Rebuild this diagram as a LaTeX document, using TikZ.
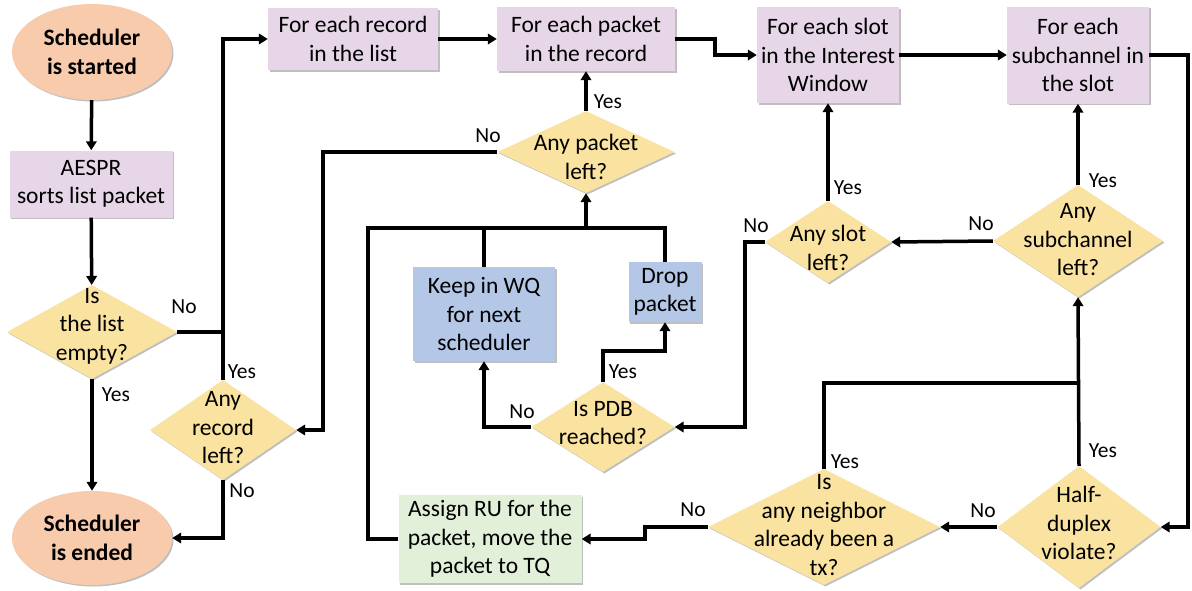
\documentclass[tikz,border=0pt]{standalone}
\usepackage{fontspec}
\setmainfont{Carlito}
\usetikzlibrary{shapes.geometric,arrows.meta,shadows}
\definecolor{corange}{HTML}{F8CBAD}
\definecolor{cpurple}{HTML}{E6D6E8}
\definecolor{cblue}{HTML}{B4C7E7}
\definecolor{cyellow}{HTML}{FAE3A0}
\definecolor{cgreen}{HTML}{E2EFD9}
\tikzset{
  base/.style={draw=none, inner sep=0pt, align=center, font=\fontsize{23.5}{28.5}\selectfont,
    drop shadow={shadow xshift=1.5pt, shadow yshift=-1.5pt, opacity=0.25, fill=black}},
  term/.style={base, shape=ellipse, fill=corange, font=\fontsize{23.5}{28.5}\selectfont\bfseries},
  proc/.style={base, shape=rectangle, fill=cpurple},
  act/.style={base, shape=rectangle, fill=cblue},
  fin/.style={base, shape=rectangle, fill=cgreen},
  dia/.style={base, shape=diamond, fill=cyellow},
  txt/.style={inner sep=0pt, align=center, font=\fontsize{23.5}{28.5}\selectfont},
  lab/.style={inner sep=0pt, font=\fontsize{21.5}{24}\selectfont},
  conn/.style={line width=3.5pt, -{Triangle[length=9pt,width=10.5pt]}},
  line/.style={line width=3.5pt},
}
\begin{document}
\begin{tikzpicture}[x=1pt,y=-1pt]
\useasboundingbox (0,0) rectangle (1192,590);
% terminals
\node[term, minimum width=160, minimum height=96] (start) at (92,52) {Scheduler\\is started};
\node[term, minimum width=160, minimum height=94] (end) at (92,538) {Scheduler\\is ended};
% processes
\node[proc, minimum width=163, minimum height=67] (aespr) at (91,184) {AESPR\\sorts list packet};
\node[proc, minimum width=170, minimum height=62] (forrec) at (353,39) {For each record\\in the list};
\node[proc, minimum width=178, minimum height=64] (forpkt) at (586,39) {For each packet\\in the record};
\node[proc, minimum width=142, minimum height=96] (forslot) at (828,55) {For each slot\\in the Interest\\Window};
\node[proc, minimum width=142, minimum height=97] (forsub) at (1078,55) {For each\\subchannel in\\the slot};
\node[act, minimum width=142, minimum height=94] (keep) at (484,314) {Keep in WQ\\for next\\scheduler};
\node[act, minimum width=73, minimum height=60] (drop) at (665,292) {Drop\\packet};
\node[fin, minimum width=183, minimum height=88] (assign) at (490,539) {Assign RU for the\\packet, move the\\packet to TQ};
% decisions
\node[dia, minimum width=170, minimum height=94] (empty) at (92,332) {};
\node[txt] (emptyt) at (92,326) {Is\\the list\\empty?};
\node[dia, minimum width=146, minimum height=100] (rleft) at (223,430) {};
\node[txt] (rleftt) at (223,428) {Any\\record\\left?};
\node[dia, minimum width=177, minimum height=82] (pktleft) at (586,152) {};
\node[txt] (pktleftt) at (586,157) {Any packet\\left?};
\node[dia, minimum width=126, minimum height=82] (slotleft) at (828,242) {};
\node[txt] (slotleftt) at (828,248) {Any slot\\left?};
\node[dia, minimum width=170, minimum height=112] (subleft) at (1078,241) {};
\node[txt] (sublefft) at (1078,240) {Any\\subchannel\\left?};
\node[dia, minimum width=143, minimum height=90] (pdb) at (603,427) {};
\node[txt] (pdbt) at (603,423) {Is PDB\\reached?};
\node[dia, minimum width=163, minimum height=122] (half) at (1079,527) {};
\node[txt] (halft) at (1079,523) {Half-\\duplex\\violate?};
\node[dia, minimum width=232, minimum height=116] (nb) at (824,527) {};
\node[txt] (nbt) at (824,525) {Is\\any neighbor\\already been a\\tx?};
% helper coordinates
\coordinate (c1) at (715,0);
\coordinate (c2) at (1188,0);
\coordinate (c3) at (745,0);
\coordinate (c4) at (323,0);
\coordinate (c5) at (368,0);
\coordinate (c6) at (0,351);
\coordinate (c7) at (0,383);
\coordinate (c8) at (645,0);
\coordinate (j) at (586,228);
% connectors
\draw[conn] (start) -- (aespr);
\draw[conn] (aespr) -- (empty);
\draw[conn] (empty) -- (end);
\draw[line] (empty.east) -- (empty.east -| rleft.north);
\draw[conn] (rleft.north) |- (forrec.west);
\draw[conn] (rleft.south) |- (end.east);
\draw[conn] (forrec.east) -- (forpkt.west |- forrec.east);
\draw[conn] (forpkt.east) -- (forpkt.east -| c1) -- (c1 |- forslot.west) -- (forslot.west);
\draw[conn] (forslot.east) -- (forsub.west |- forslot.east);
\draw[conn] (forsub.east) -- (forsub.east -| c2) |- (half.east);
\draw[conn] (subleft.north) -- (forsub.south);
\draw[conn] (subleft.west) -- (slotleft.east);
\draw[conn] (slotleft.north) -- (forslot.south);
\draw[conn] (slotleft.west) -- (slotleft.west -| c3) |- (pdb.east);
\draw[conn] (pktleft.north) -- (forpkt.south);
\draw[conn] (pktleft.west) -- (pktleft.west -| c4) |- (rleft.east);
\draw[conn] (j) -- (pktleft.south);
\draw[line] (keep.north) -- (keep.north |- j);
\draw[line] (drop.north) |- (j);
\draw[line] (assign.west) -| (c5 |- j) -- (j);
\draw[conn] (pdb.north) -- (pdb.north |- c6) -| (drop.south);
\draw[conn] (pdb.west) -| (keep.south);
\draw[conn] (half.north) -- (subleft.south);
\draw[line] (nb.north) |- (half.north |- c7);
\draw[conn] (half.west) -- (nb.east);
\draw[conn] (nb.west) -- (nb.west -| c8) -- (c8 |- assign.east) -- (assign.east);
% labels
\node[lab] (l1) at (184,307) {No};
\node[lab] (l2) at (116,395) {Yes};
\node[lab] (l3) at (242,372) {Yes};
\node[lab] (l4) at (242,491) {No};
\node[lab] (l5) at (488,136) {No};
\node[lab] (l6) at (608,102) {Yes};
\node[lab] (l7) at (756,226) {No};
\node[lab] (l8) at (848,188) {Yes};
\node[lab] (l9) at (981,224) {No};
\node[lab] (l10) at (1103,181) {Yes};
\node[lab] (l11) at (623,372) {Yes};
\node[lab] (l12) at (522,412) {No};
\node[lab] (l13) at (845,462) {Yes};
\node[lab] (l14) at (1103,451) {Yes};
\node[lab] (l15) at (983,511) {No};
\node[lab] (l16) at (693,510) {No};
\end{tikzpicture}
\end{document}
